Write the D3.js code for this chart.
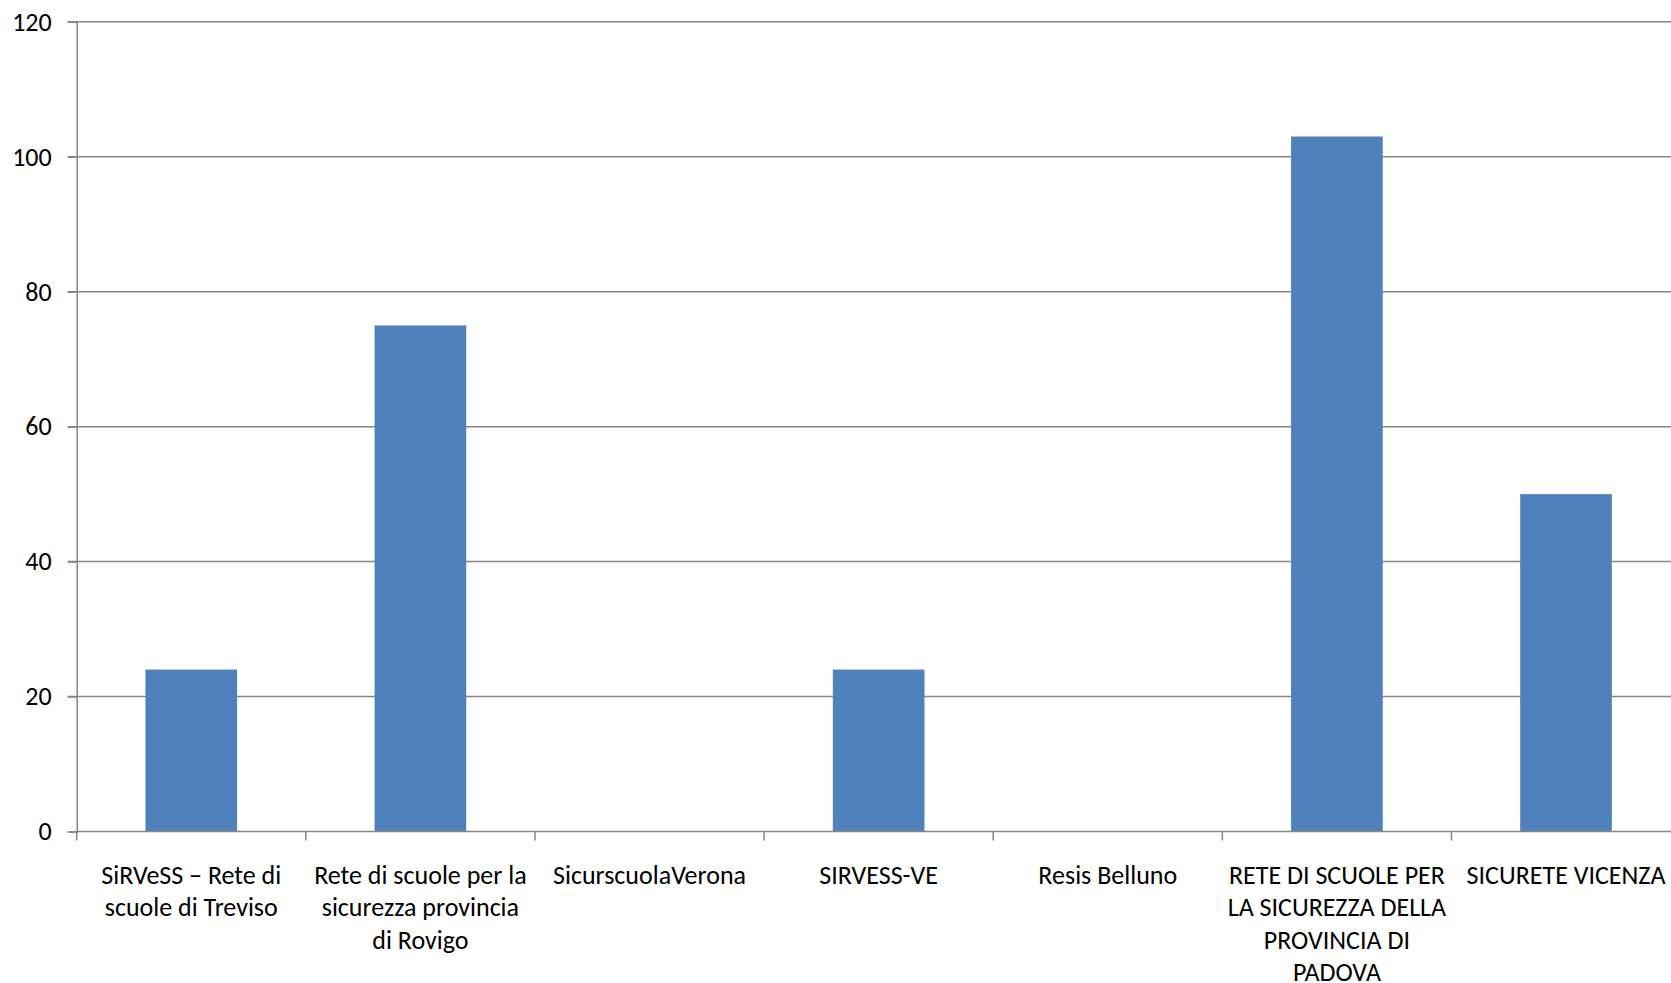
<!DOCTYPE html>
<html>
<head>
<meta charset="utf-8">
<script src="https://cdn.jsdelivr.net/npm/d3@7"></script>
<style>
  html, body { margin: 0; padding: 0; background: #fff; overflow: hidden; }
  svg { display: block; }
  text { font-family: Carlito, Calibri, "Open Sans", sans-serif; fill: #000; }
</style>
</head>
<body>
<svg id="chart" width="1671" height="983"></svg>
<script>
const categories = [
  "SiRVeSS – Rete di scuole di Treviso",
  "Rete di scuole per la sicurezza provincia di Rovigo",
  "SicurscuolaVerona",
  "SIRVESS-VE",
  "Resis Belluno",
  "RETE DI SCUOLE PER LA SICUREZZA DELLA PROVINCIA DI PADOVA",
  "SICURETE VICENZA"
];
const categoryLabelLines = [
  ["SiRVeSS – Rete di", "scuole di Treviso"],
  ["Rete di scuole per la", "sicurezza provincia", "di Rovigo"],
  ["SicurscuolaVerona"],
  ["SIRVESS-VE"],
  ["Resis Belluno"],
  ["RETE DI SCUOLE PER", "LA SICUREZZA DELLA", "PROVINCIA DI", "PADOVA"],
  ["SICURETE VICENZA"]
];
const values = [24, 75, 0, 24, 0, 103, 50];
const yTicks = [0, 20, 40, 60, 80, 100, 120];

const svg = d3.select("#chart");
const mLeft = 76.7, mRight = 1680.6, mTop = 21.8, mBottom = 831.5;
const fontFamily = 'Carlito, Calibri, "Open Sans", sans-serif';

// pick a font size so that the installed substitute font has the reference's text width
const probe = svg.append("text").attr("font-size", "100px").attr("font-family", fontFamily).text("RETE DI SCUOLE PER");
const fontSize = Math.min(26, 100 * 220.6 / probe.node().getComputedTextLength());
probe.remove();

const x = d3.scaleBand().domain(categories).range([mLeft, mRight]).paddingInner(0.6).paddingOuter(0.3);
const xb = d3.scaleBand().domain(categories).range([mLeft, mRight]);
const y = d3.scaleLinear().domain([0, 120]).range([mBottom, mTop]);

// gridlines
svg.append("g").selectAll("line").data(yTicks.filter(d => d > 0)).join("line")
  .attr("x1", mLeft - 9).attr("x2", 1671)
  .attr("y1", d => y(d)).attr("y2", d => y(d))
  .attr("stroke", "#868686").attr("stroke-width", 1.5);

// bars
svg.append("g").selectAll("rect").data(values).join("rect")
  .attr("x", (d, i) => x(categories[i]))
  .attr("width", x.bandwidth())
  .attr("y", d => y(d))
  .attr("height", d => mBottom - y(d))
  .attr("fill", "#4F81BD");

// y axis
const yAxis = d3.axisLeft(y).tickValues(yTicks).tickSize(9).tickPadding(16);
const gy = svg.append("g").attr("transform", `translate(${mLeft},0)`).call(yAxis);
gy.select(".domain").attr("stroke", "#868686").attr("stroke-width", 1.5);
gy.selectAll(".tick line").attr("stroke", "#868686").attr("stroke-width", 1.5);
gy.selectAll(".tick text").attr("font-size", fontSize + "px").attr("font-family", fontFamily).attr("fill", "#000");

// x axis
const boundaries = categories.map(c => xb(c)).concat([mRight]);
svg.append("line").attr("x1", mLeft).attr("x2", 1671).attr("y1", mBottom).attr("y2", mBottom)
  .attr("stroke", "#868686").attr("stroke-width", 1.5);
svg.append("g").selectAll("line").data(boundaries).join("line")
  .attr("x1", d => d).attr("x2", d => d)
  .attr("y1", mBottom).attr("y2", mBottom + 9)
  .attr("stroke", "#868686").attr("stroke-width", 1.5);

const firstBaseline = 883.5, lineStep = 32.5;
const labels = svg.append("g").selectAll("text").data(categories).join("text")
  .attr("text-anchor", "middle")
  .attr("font-size", fontSize + "px")
  .attr("font-family", fontFamily)
  .attr("x", d => xb(d) + xb.bandwidth() / 2)
  .attr("y", firstBaseline);
labels.each(function(d, i) {
  const t = d3.select(this);
  categoryLabelLines[i].forEach((line, j) => {
    t.append("tspan").attr("x", xb(d) + xb.bandwidth() / 2).attr("y", firstBaseline + j * lineStep).text(line);
  });
});
</script>
</body>
</html>
